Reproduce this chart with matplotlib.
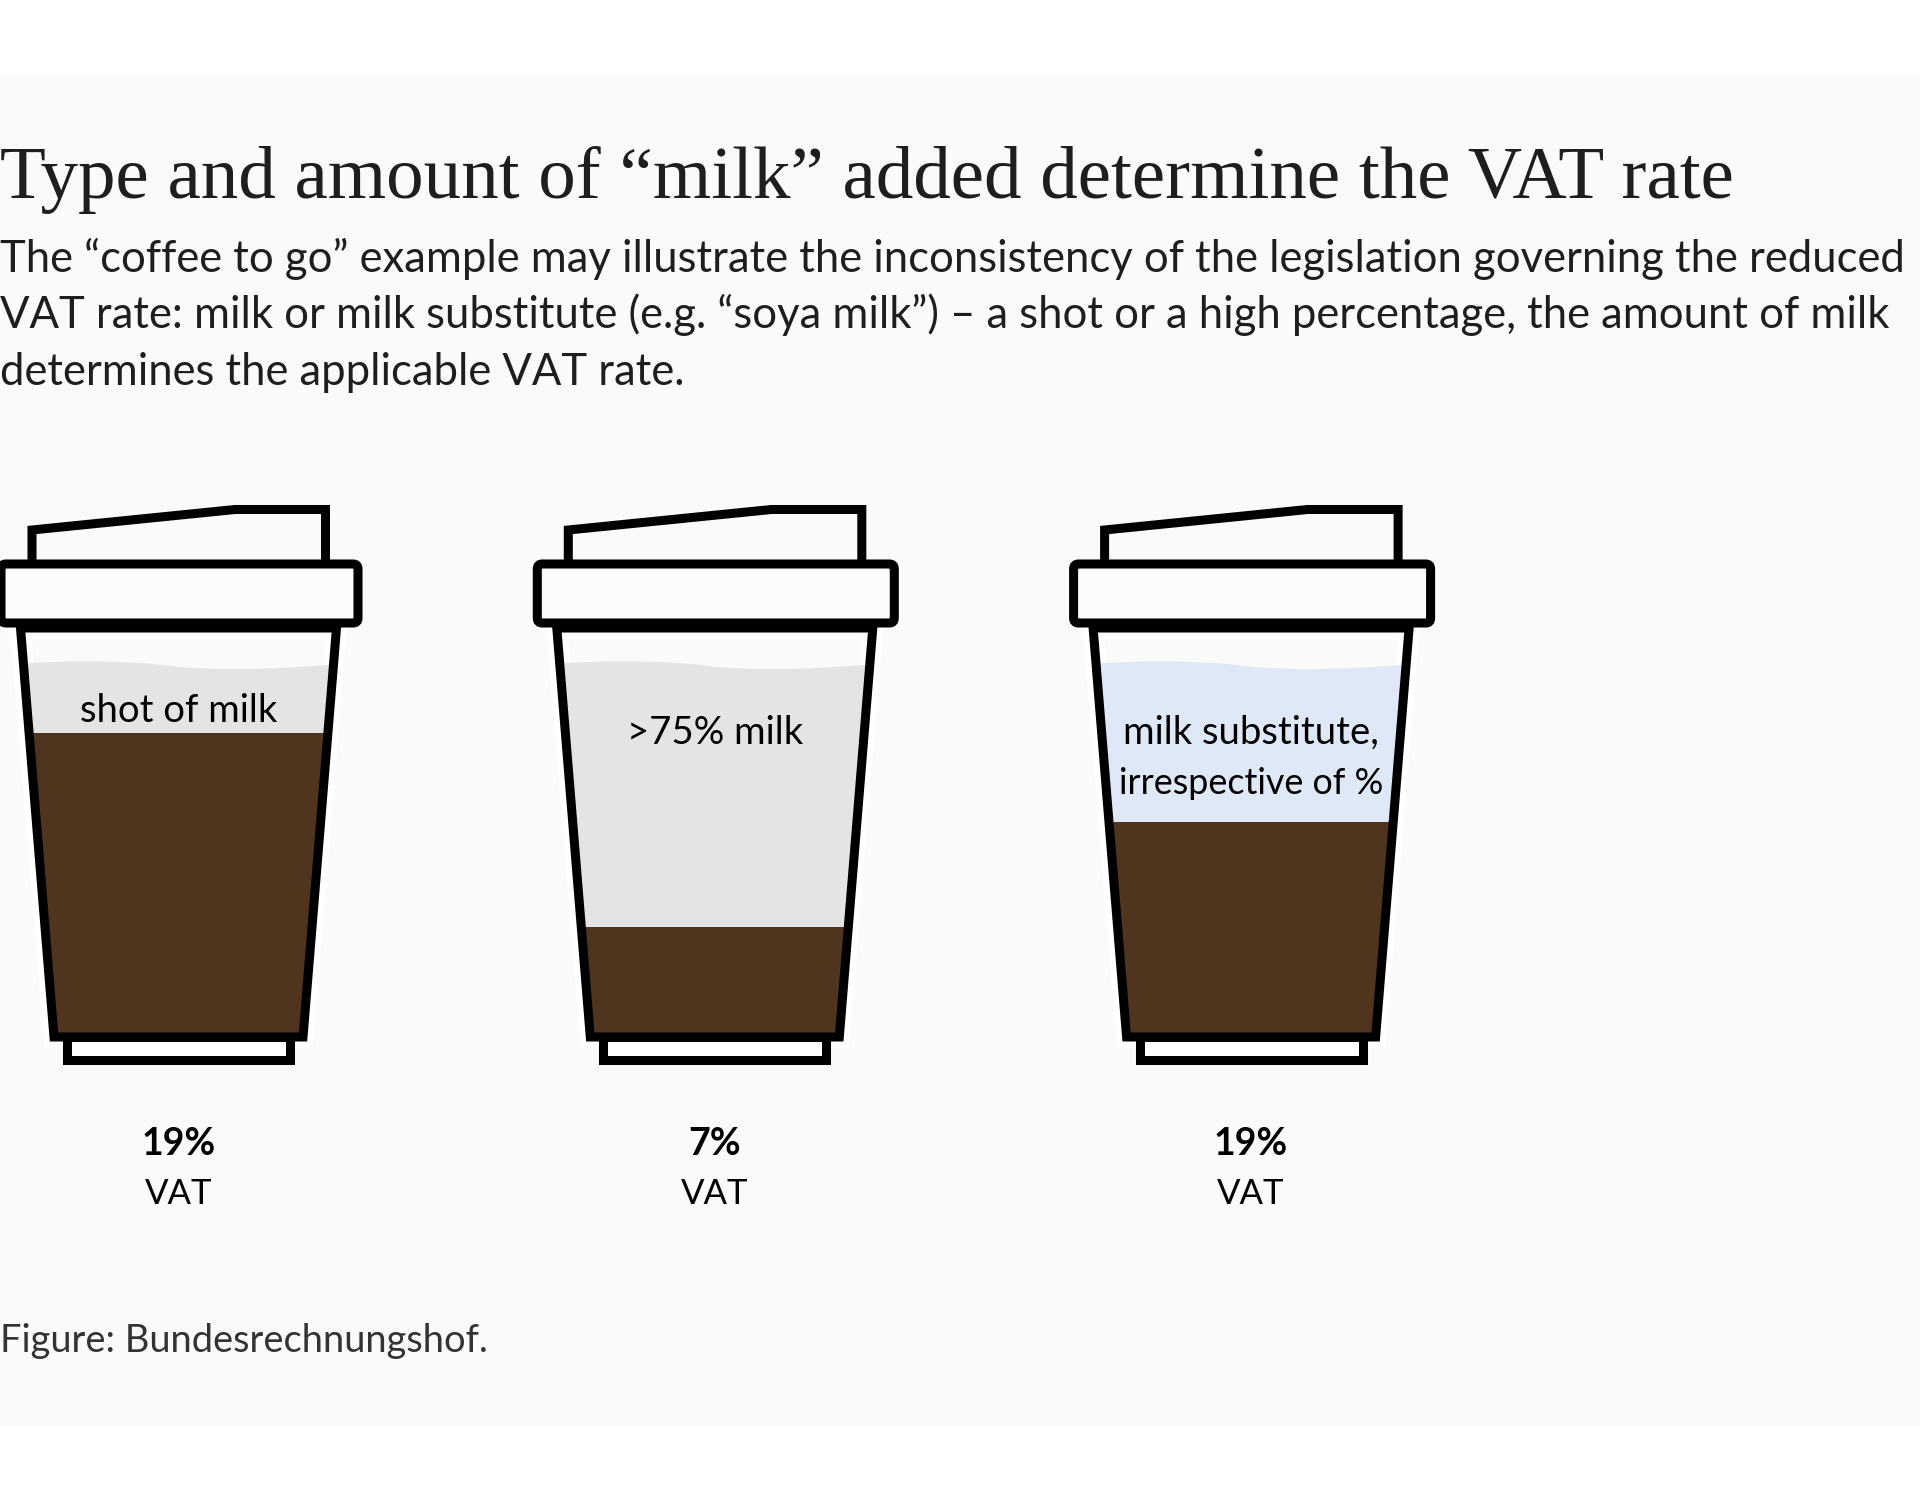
import matplotlib
matplotlib.use("Agg")
import matplotlib.pyplot as plt
from matplotlib.patches import FancyBboxPatch, PathPatch, Polygon, Rectangle
from matplotlib.path import Path

title = "Type and amount of “milk” added determine the VAT rate"
intro_lines = [
    "The “coffee to go” example may illustrate the inconsistency of the legislation governing the reduced",
    "VAT rate: milk or milk substitute (e.g. “soya milk”) – a shot or a high percentage, the amount of milk",
    "determines the applicable VAT rate.",
]
source = "Figure: Bundesrechnungshof."

# one entry per cup
vat_rates = ["19%", "7%", "19%"]
cup_labels = [["shot of milk"], [">75% milk"], ["milk substitute,", "irrespective of %"]]
coffee_share = [74, 26, 52]  # percent of cup height
milk_share = [91, 91, 91]
milk_colors = ["#e4e4e4", "#e4e4e4", "#dfe8f6"]

BG = "#f9fbfa"
COFFEE = "#50351e"
LW = 6.5  # 9 px at dpi 100

fig = plt.figure(figsize=(19.2, 15), dpi=100, facecolor="white")
ax = fig.add_axes([0, 0, 1, 1])
ax.set_xlim(0, 1920)
ax.set_ylim(1500, 0)
ax.axis("off")

ax.add_patch(Rectangle((0, 74), 1920, 1352, fc=BG, ec="none", zorder=0))

ax.text(0, 198, title, family="Liberation Serif", fontsize=54, color="#1e1e1e", va="baseline")
for i, line in enumerate(intro_lines):
    ax.text(0, 272 + i * 56.5, line, family="Lato", fontsize=31.4, color="#1e1e1e", va="baseline")
ax.text(0, 1352, source, family="Lato", fontsize=27.4, color="#333333", va="baseline")

cup_top = 628
cup_bottom = 1032


def level_y(share):
    return cup_bottom - (cup_bottom - cup_top) * share / 100


for i in range(len(vat_rates)):
    cx = 178.5 + i * 536.3
    body = [(cx - 158, cup_top), (cx + 158, cup_top), (cx + 124.5, 1037), (cx - 124.5, 1037)]

    # pale halo round the cup
    ax.add_patch(Polygon(body, closed=True, fc=BG, ec="white", lw=15, joinstyle="miter", zorder=1))

    clip = Polygon(body, closed=True, transform=ax.transData)

    milk_top = level_y(milk_share[i])
    milk = Path(
        [
            (cx - 170, milk_top),
            (cx - 110, milk_top - 4),
            (cx - 70, milk_top - 4),
            (cx - 20, milk_top),
            (cx + 20, milk_top + 6),
            (cx + 80, milk_top + 7),
            (cx + 170, milk_top - 1),
            (cx + 170, 1037),
            (cx - 170, 1037),
            (cx - 170, milk_top),
        ],
        [Path.MOVETO, Path.CURVE4, Path.CURVE4, Path.CURVE4, Path.CURVE4, Path.CURVE4, Path.CURVE4,
         Path.LINETO, Path.LINETO, Path.CLOSEPOLY],
    )
    milk_patch = PathPatch(milk, fc=milk_colors[i], ec="none", zorder=2)
    ax.add_patch(milk_patch)
    milk_patch.set_clip_path(clip)

    coffee_top = level_y(coffee_share[i])
    coffee_patch = Rectangle((cx - 170, coffee_top), 340, 1037 - coffee_top, fc=COFFEE, ec="none", zorder=3)
    ax.add_patch(coffee_patch)
    coffee_patch.set_clip_path(clip)

    ax.add_patch(Polygon(body, closed=True, fc="none", ec="black", lw=LW, joinstyle="miter", zorder=4))

    # foot
    ax.add_patch(Rectangle((cx - 111.5, 1037), 223, 22.5, fc="white", ec="black", lw=LW, joinstyle="miter", zorder=3))

    # sip spout on the lid
    spout = [(cx - 146.5, 566), (cx - 146.5, 530), (cx + 56.5, 509.5), (cx + 147, 509.5), (cx + 147, 566)]
    ax.add_patch(Polygon(spout, closed=False, fc=BG, ec="black", lw=LW, joinstyle="miter", zorder=4))

    # lid
    ax.add_patch(
        FancyBboxPatch(
            (cx - 177.5, 564), 357, 59,
            boxstyle="round,pad=0,rounding_size=5",
            fc="#fafbfa", ec="black", lw=LW, zorder=5,
        )
    )

    labels = cup_labels[i]
    first = 722 if i == 0 else 744
    for j, text in enumerate(labels):
        # the long line has to stay inside the cup walls
        size = 25.8 if text.startswith("irrespective") else 27.5
        ax.text(cx, first + j * 50, text, family="Lato", fontsize=size, color="black", ha="center", va="baseline", zorder=6)

    ax.text(cx, 1155, vat_rates[i], family="Lato", fontsize=27, fontweight="bold", color="black", ha="center", va="baseline")
    ax.text(cx, 1204, "VAT", family="Lato", fontsize=25, color="black", ha="center", va="baseline")

fig.savefig("out.png", dpi=100, facecolor="white")
